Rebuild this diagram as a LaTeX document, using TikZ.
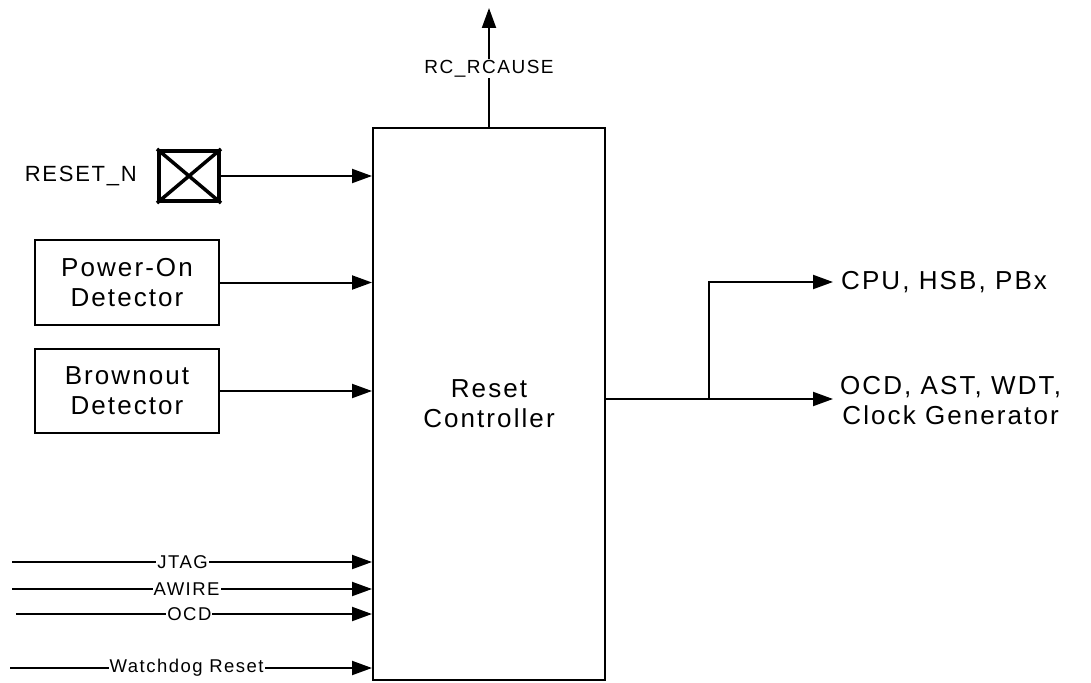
\documentclass[tikz,border=0pt]{standalone}
\usepackage{fontspec}
\setmainfont{Liberation Sans}[LetterSpace=8]
\usetikzlibrary{arrows.meta}
\begin{document}
\begin{tikzpicture}[x=1pt,y=-1pt,
  every node/.style={inner sep=0pt},
  big/.style={font=\fontsize{26}{30}\selectfont},
  mid/.style={font=\fontsize{19}{22}\selectfont},
  small/.style={font=\fontsize{18.5}{21}\selectfont},
  blk/.style={draw, line width=2pt, minimum width=184pt, align=center, big},
  sig/.style={line width=2pt, -{Triangle[length=20pt,width=14pt]}},
  lbl/.style={fill=white, inner xsep=1pt, inner ysep=1pt, small}
]
\useasboundingbox (0,0) rectangle (1091,682);
% main block
\node[draw, line width=2pt, minimum width=232pt, minimum height=552pt, big, align=center] (rc) at (489,404) {Reset\\Controller};
% RC_RCAUSE output
\coordinate (top) at (489,8);
\draw[sig] (rc.north) -- node[lbl, mid, pos=0.49] (rcl) {RC\_RCAUSE} (top);
% RESET_N pad
\node[draw, line width=4pt, minimum width=60pt, minimum height=50pt] (pad) at (189,176) {};
\draw[line width=3.5pt] (pad.north west) -- (pad.south east) (pad.north east) -- (pad.south west);
\node[anchor=east, font=\fontsize{22}{24}\selectfont] (rstl) at ([xshift=-20pt]pad.west) {RESET\_N};
\draw[sig] (pad.east) -- (pad.east -| rc.west);
% detectors
\node[blk, minimum height=85pt] (por) at (127,282.5) {Power-On\\Detector};
\node[blk, minimum height=84pt] (bod) at (127,391) {Brownout\\Detector};
\draw[sig] (por.east) -- (por.east -| rc.west);
\draw[sig] (bod.east) -- (bod.east -| rc.west);
% debug / watchdog inputs
\coordinate (jt) at (12,562);
\coordinate (aw) at (12,589);
\coordinate (oc) at (16,614);
\coordinate (wd) at (10,668);
\draw[sig] (jt) -- node[lbl, pos=0.474] (jtl) {JTAG} (jt -| rc.west);
\draw[sig] (aw) -- node[lbl, pos=0.485] (awl) {AWIRE} (aw -| rc.west);
\draw[sig] (oc) -- node[lbl, pos=0.487] (ocl) {OCD} (oc -| rc.west);
\draw[sig] (wd) -- node[lbl, pos=0.488] (wdl) {Watchdog Reset} (wd -| rc.west);
% outputs
\coordinate (br) at (709,399);
\coordinate (o1) at (833,282);
\coordinate (o2) at (833,399);
\draw[sig] (rc.east |- o2) -- (o2);
\draw[sig] (br) |- (o1);
\node[anchor=west, big] (l1) at (841,282) {CPU, HSB, PBx};
\node[anchor=west, big, align=center] (l2) at (840,401) {OCD, AST, WDT,\\Clock Generator};
\end{tikzpicture}
\end{document}
